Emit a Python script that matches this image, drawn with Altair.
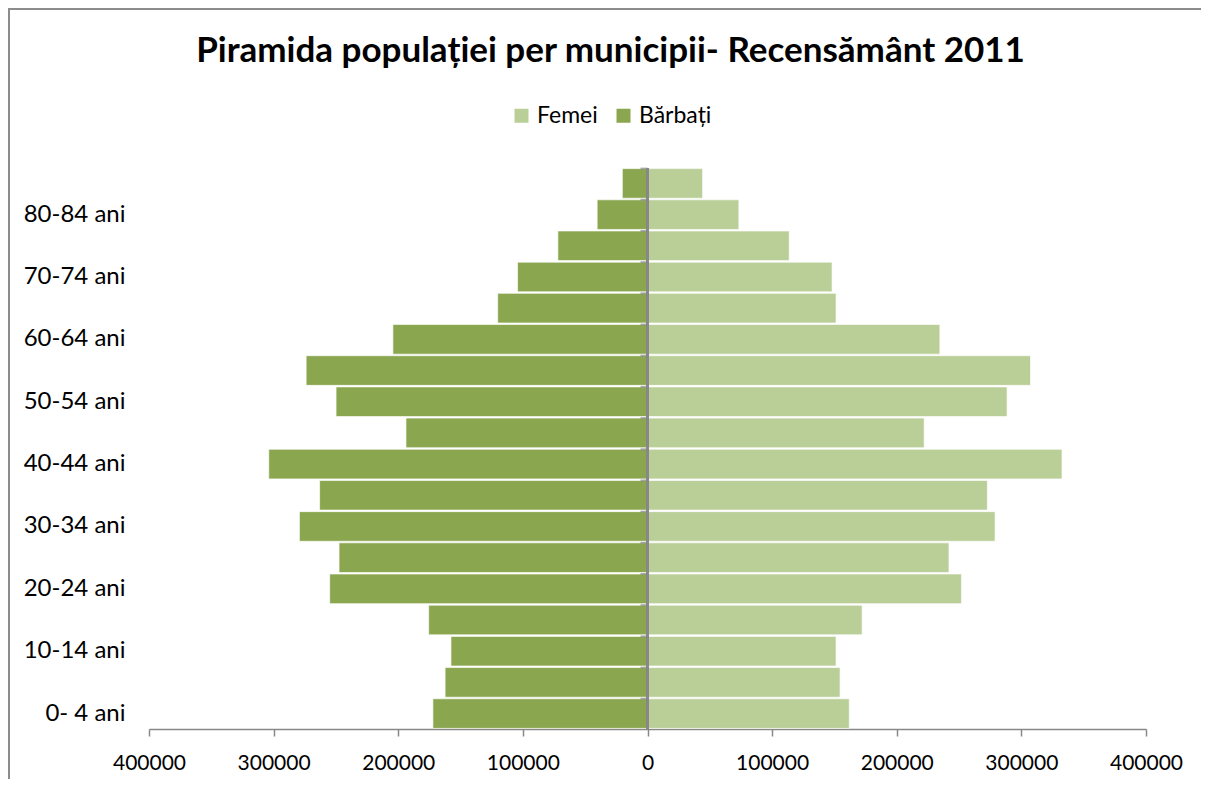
import altair as alt
import pandas as pd

# ---- data ----
ages = ["0- 4 ani", "5- 9 ani", "10-14 ani", "15-19 ani", "20-24 ani", "25-29 ani",
        "30-34 ani", "35-39 ani", "40-44 ani", "45-49 ani", "50-54 ani", "55-59 ani",
        "60-64 ani", "65-69 ani", "70-74 ani", "75-79 ani", "80-84 ani", "85+ ani"]
femei = [161900, 154500, 151300, 172200, 251900, 241900, 278900, 272700, 332600,
         222000, 288500, 307300, 234600, 151300, 148100, 113700, 73300, 44200]
barbati = [172200, 162400, 157700, 175600, 255000, 247500, 279300, 263100, 303900,
           193800, 249900, 273900, 204300, 120200, 104300, 71900, 40400, 20200]
labeled_ages = ["0- 4 ani", "10-14 ani", "20-24 ani", "30-34 ani", "40-44 ani",
                "50-54 ani", "60-64 ani", "70-74 ani", "80-84 ani"]
x_ticks = [-400000, -300000, -200000, -100000, 0, 100000, 200000, 300000, 400000]
series = ["Femei", "Bărbați"]
colors = ["#BACE98", "#8AA64F"]

rows = []
for a, f, b in zip(ages, femei, barbati):
    rows.append({"age": a, "sex": "Femei", "pop": f})
    rows.append({"age": a, "sex": "Bărbați", "pop": b})
df = pd.DataFrame(rows)
df_ages = pd.DataFrame({"age": ages})

W, H = 997, 561
FONT = "Lato"
GRAY = "#888888"
y_sort = list(reversed(ages))

yscale = alt.Scale(domain=y_sort, paddingInner=0.05, paddingOuter=0.02)
yaxis = alt.Axis(values=labeled_ages, domain=False, ticks=False,
                 labelPadding=24, labelFont=FONT, labelFontSize=24,
                 labelColor="#000000")

bars = alt.Chart(df).transform_calculate(
    val="datum.sex == 'Bărbați' ? -datum.pop : datum.pop"
).mark_bar(stroke="#FFFFFF", strokeWidth=0.8, strokeOpacity=0.8).encode(
    y=alt.Y("age:N", sort=y_sort, scale=yscale, title=None, axis=yaxis),
    x=alt.X("val:Q", title=None,
            scale=alt.Scale(domain=[-400000, 400000], nice=False),
            axis=alt.Axis(values=x_ticks, labelExpr="format(abs(datum.value), 'd')",
                          grid=False, domainColor=GRAY, domainWidth=1.5,
                          tickColor=GRAY, tickWidth=1.5, tickSize=7,
                          labelFlush=False, labelOverlap=False,
                          labelPadding=16, labelFont=FONT, labelFontSize=21,
                          labelColor="#000000")),
    color=alt.Color("sex:N", scale=alt.Scale(domain=series, range=colors),
                    legend=alt.Legend(title=None, orient="none", direction="horizontal",
                                      legendX=361, legendY=-64, padding=0,
                                      symbolType="square", symbolSize=196,
                                      symbolStrokeWidth=0, labelOffset=4,
                                      columnPadding=14, labelFont=FONT,
                                      labelFontSize=23, labelColor="#000000")),
)

axis_line = alt.Chart(df_ages).mark_rule(color=GRAY, strokeWidth=2).encode(
    x=alt.datum(0), y=alt.value(0), y2=alt.value(H)
)

axis_ticks = alt.Chart(df_ages).mark_tick(
    orient="horizontal", size=7, thickness=2, color=GRAY, xOffset=-3.5
).encode(
    y=alt.Y("age:N", sort=y_sort, scale=yscale, bandPosition=0, title=None, axis=yaxis),
    x=alt.datum(0),
)

frame = alt.Chart(pd.DataFrame({"a": [0]})).mark_rect(
    fillOpacity=0, stroke="#8C8C8C", strokeWidth=2
).encode(
    x=alt.value(-140), x2=alt.value(2000), y=alt.value(-159), y2=alt.value(2000)
)

chart = alt.layer(frame, bars, axis_line, axis_ticks).properties(
    width=W, height=H,
    title=alt.TitleParams("Piramida populației per municipii- Recensământ 2011",
                          font=FONT, fontSize=35, fontWeight="bold", color="#000000",
                          anchor="middle", dx=-37, offset=-61),
    autosize=alt.AutoSizeParams(type="none"),
    padding={"left": 141, "top": 160, "right": 55, "bottom": 50},
).configure_view(stroke=None)

chart.save("out.html", embed_options={"renderer": "svg", "actions": False})
